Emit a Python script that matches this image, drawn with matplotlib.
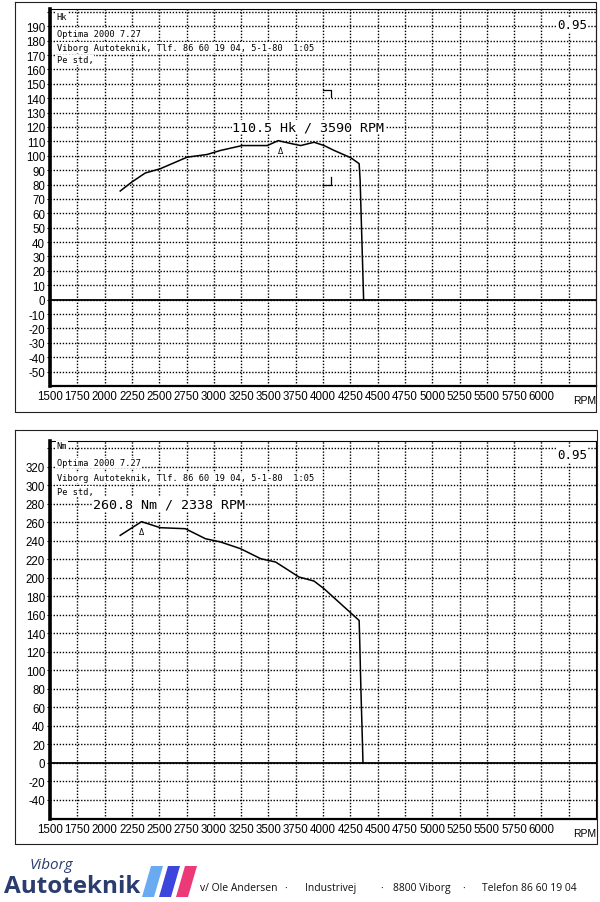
import numpy as np
import matplotlib
matplotlib.use('Agg')
import matplotlib.pyplot as plt
from matplotlib.lines import Line2D
from matplotlib.patches import Polygon

plt.rcParams['font.family'] = ['Liberation Sans Narrow', 'Liberation Sans', 'DejaVu Sans']

# ============ 数据 ============
rpm_hk = [2143, 2250, 2372, 2510, 2755, 2939, 3061, 3260, 3490, 3590, 3719, 3796,
          3918, 4010, 4102, 4255, 4331, 4340, 4372]
hk = [75.5, 81.8, 88.0, 91.0, 99.0, 100.9, 103.7, 107.1, 107.1, 110.5, 108.3, 107.1,
      109.4, 107.1, 103.7, 98.6, 94.5, 83.0, 0.0]

rpm_nm = [2143, 2338, 2510, 2740, 2923, 3061, 3245, 3429, 3566, 3780, 3918, 4010,
          4331, 4335, 4347, 4362, 4366]
nm = [246.0, 260.8, 254.3, 253.2, 242.4, 238.9, 231.6, 220.8, 217.2, 201.0, 196.6, 188.3,
      154.0, 138.0, 80.0, 18.7, 0.0]

rpm_ticks = list(range(1500, 6500, 250))
rpm_labels = [str(r) if r <= 6000 else '' for r in rpm_ticks]
hk_ticks = list(range(-50, 210, 10))
hk_labels = [str(v) if v < 200 else '' for v in hk_ticks]
nm_ticks = list(range(-40, 360, 20))
nm_labels = [str(v) if v < 340 else '' for v in nm_ticks]

peak_hk = (3590, 110.5)
peak_nm = (2338, 260.8)
# 测量区间标记
mark_hi_x, mark_hi_y = [3997, 4073, 4073], [145.6, 145.6, 140.5]
mark_lo_x, mark_lo_y = [3997, 4073, 4073], [79.9, 79.9, 85.2]

header = ['Optima 2000 7.27',
          'Viborg Autoteknik, Tlf. 86 60 19 04, 5-1-80  1:05',
          'Pe std,']

W, H = 600, 903
fig = plt.figure(figsize=(W / 100, H / 100), dpi=100)
fig.patch.set_facecolor('white')


def px(x0, y0, x1, y1):
    return [x0 / W, 1 - y1 / H, (x1 - x0) / W, (y1 - y0) / H]


ax1 = fig.add_axes(px(50, 10, 596, 387))
ax2 = fig.add_axes(px(50, 442, 596, 819.5))

mono = ['DejaVu Sans Mono']
white = dict(facecolor='white', edgecolor='none', pad=0.6)


def setup(ax, yticks, ylabels, ylim, unit, head_y):
    ax.set_xlim(1500, 6500)
    ax.set_ylim(*ylim)
    ax.set_xticks(rpm_ticks, rpm_labels)
    ax.set_yticks(yticks, ylabels)
    ax.tick_params(axis='x', length=0, pad=3, labelsize=8.3)
    ax.tick_params(axis='y', length=2.5, width=0.8, pad=1, labelsize=8.3)
    ax.grid(True, color='black', linestyle=(0, (1, 1.2)), linewidth=1.0)
    ax.set_axisbelow(True)
    ax.axhline(0, color='black', linewidth=1.3, zorder=2)
    ax.spines['left'].set_linewidth(2.6)
    ax.spines['bottom'].set_linewidth(1.6)
    ax.spines['top'].set_linewidth(0.8)
    ax.spines['right'].set_linewidth(0.8)
    ax.text(0.012, head_y[0], unit, transform=ax.transAxes, family=mono,
            fontsize=6.2, va='center', ha='left', bbox=white, zorder=3)
    for t, y in zip(header, head_y[1:]):
        ax.text(0.012, y, t, transform=ax.transAxes, family=mono,
                fontsize=6.2, va='center', ha='left', bbox=white, zorder=3)
    ax.text(0.956, head_y[0] - 0.022, '0.95', transform=ax.transAxes, family=mono,
            fontsize=9, va='center', ha='center', bbox=white, zorder=3)
    ax.text(6500, -0.025, 'RPM', transform=ax.get_xaxis_transform(),
            fontsize=7.5, va='top', ha='right')


setup(ax1, hk_ticks, hk_labels, (-60, 202), 'Hk', [0.981, 0.936, 0.898, 0.865])
setup(ax2, nm_ticks, nm_labels, (-60, 348), 'Nm', [0.987, 0.942, 0.902, 0.866])

ax1.plot(rpm_hk, hk, color='black', linewidth=1.1, zorder=4)
ax2.plot(rpm_nm, nm, color='black', linewidth=1.1, zorder=4)

ax1.plot(mark_hi_x, mark_hi_y, color='black', linewidth=0.9, zorder=4)
ax1.plot(mark_lo_x, mark_lo_y, color='black', linewidth=0.9, zorder=4)

ax1.text(peak_hk[0] + 20, peak_hk[1] - 6.5, 'Δ', fontsize=5.5, ha='center',
         va='center', family=['DejaVu Sans'], zorder=5)
ax2.text(peak_nm[0] + 5, peak_nm[1] - 11, 'Δ', fontsize=5.5, ha='center',
         va='center', family=['DejaVu Sans'], zorder=5)

ax1.text(3866, 120, f'{peak_hk[1]} Hk / {peak_hk[0]} RPM', family=mono,
         fontsize=9.6, ha='center', va='center', bbox=white, zorder=5)
ax2.text(2594, 280, f'{peak_nm[1]} Nm / {peak_nm[0]} RPM', family=mono,
         fontsize=9.6, ha='center', va='center', bbox=white, zorder=5)


# ============ 外框 ============
def frame(x0, y0, x1, y1):
    xs = np.array([x0, x1, x1, x0, x0]) / W
    ys = 1 - np.array([y0, y0, y1, y1, y0]) / H
    fig.add_artist(Line2D(xs, ys, color='#222222', linewidth=0.8))


frame(15, 3, 596, 413)
frame(15, 431, 597, 845)

# ============ 页脚 ============
logo_blue = '#2b3d6e'
fig.text(30 / W, 1 - 866 / H, 'Viborg', fontsize=11, style='italic',
         family=['Open Sans'], color=logo_blue, ha='left', va='center')
fig.text(4 / W, 1 - 887 / H, 'Autoteknik', fontsize=17.5, weight='bold',
         family=['Open Sans'], color=logo_blue, ha='left', va='center')

bar_colors = ['#6aaaf0', '#3c46dc', '#ec3a78']
for i, c in enumerate(bar_colors):
    x0 = 142 + i * 17
    pts = [(x0, 898), (x0 + 12, 898), (x0 + 21, 867), (x0 + 9, 867)]
    fig.add_artist(Polygon([(x / W, 1 - y / H) for x, y in pts], closed=True,
                           facecolor=c, edgecolor='none'))

footer = [(200, 'v/ Ole Andersen'), (284, '·'), (305, 'Industrivej'),
          (380, '·'), (393, '8800 Viborg'), (462, '·'), (482, 'Telefon 86 60 19 04')]
for x, t in footer:
    fig.text(x / W, 1 - 889 / H, t, fontsize=7.5, family=['Open Sans'],
             color='#111111', ha='left', va='center')

fig.savefig('out.png', dpi=100, facecolor='white')
